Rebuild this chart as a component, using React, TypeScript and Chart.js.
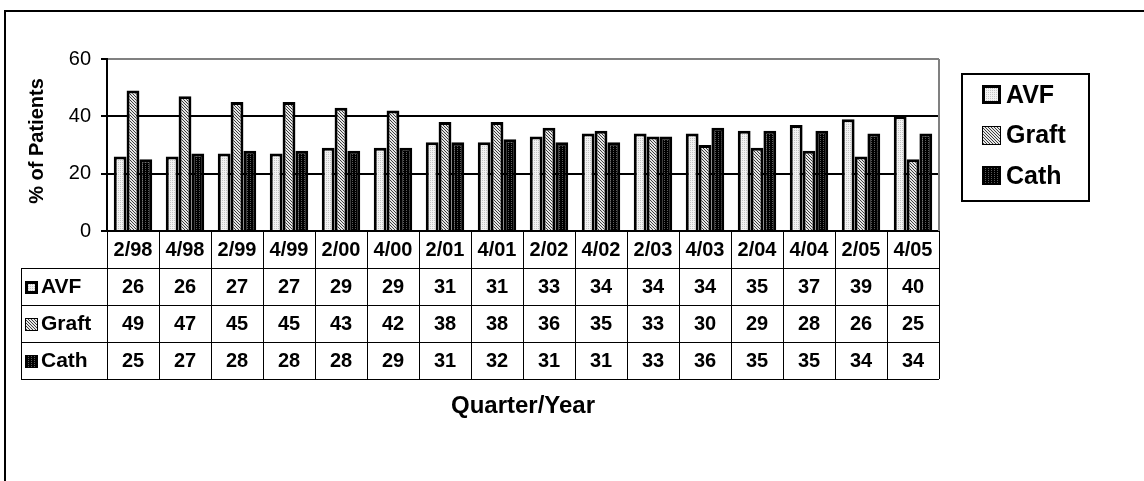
import React, { useEffect, useRef } from "react";
import { Chart, registerables } from "chart.js";

Chart.register(...registerables);

// Quarterly vascular access mix
const quarters = ["2/98", "4/98", "2/99", "4/99", "2/00", "4/00", "2/01", "4/01", "2/02", "4/02", "2/03", "4/03", "2/04", "4/04", "2/05", "4/05"];
const avf = [26, 26, 27, 27, 29, 29, 31, 31, 33, 34, 34, 34, 35, 37, 39, 40];
const graft = [49, 47, 45, 45, 43, 42, 38, 38, 36, 35, 33, 30, 29, 28, 26, 25];
const cath = [25, 27, 28, 28, 28, 29, 31, 32, 31, 31, 33, 36, 35, 35, 34, 34];
const seriesNames = ["AVF", "Graft", "Cath"];
const yTicks = [0, 20, 40, 60];
const yTitle = "% of Patients";
const xTitle = "Quarter/Year";

const FONT = "'Liberation Sans', Arial, Helvetica, sans-serif";

function makePattern(w: number, h: number, draw: (g: CanvasRenderingContext2D) => void): CanvasPattern {
  const c = document.createElement("canvas");
  c.width = w;
  c.height = h;
  const g = c.getContext("2d") as CanvasRenderingContext2D;
  draw(g);
  return g.createPattern(c, "repeat") as CanvasPattern;
}

function px(g: CanvasRenderingContext2D, x: number, y: number, color: string) {
  g.fillStyle = color;
  g.fillRect(x, y, 1, 1);
}

export default function App() {
  const ref = useRef<HTMLCanvasElement | null>(null);

  useEffect(() => {
    const canvas = ref.current;
    if (!canvas) return;

    // light stipple, fine diagonal hatch, dark grid
    const avfFill = makePattern(2, 2, (g) => {
      g.fillStyle = "#f2f2f2";
      g.fillRect(0, 0, 2, 2);
      px(g, 0, 0, "#c4c4c4");
    });
    const graftFill = makePattern(3, 3, (g) => {
      g.fillStyle = "#e6e6e6";
      g.fillRect(0, 0, 3, 3);
      for (let i = 0; i < 3; i++) px(g, i, i, "#3c3c3c");
    });
    const cathFill = makePattern(3, 2, (g) => {
      g.fillStyle = "#000";
      g.fillRect(0, 0, 3, 2);
      px(g, 1, 0, "#5a5a5a");
    });
    const fills = [avfFill, graftFill, cathFill];
    const seriesData = [avf, graft, cath];

    const drawSwatch = (ctx: CanvasRenderingContext2D, i: number, x: number, y: number, s: number) => {
      ctx.fillStyle = "#000";
      ctx.fillRect(x, y, s, s);
      const inset = i === 0 ? 3 : 1;
      ctx.fillStyle = fills[i];
      ctx.fillRect(x + inset, y + inset, s - 2 * inset, s - 2 * inset);
    };

    const decor = {
      id: "decor",
      beforeDraw(chart: Chart) {
        const ctx = chart.ctx;
        ctx.save();
        ctx.fillStyle = "#fff";
        ctx.fillRect(0, 0, chart.width, chart.height);
        ctx.restore();
      },
      afterDraw(chart: Chart) {
        const ctx = chart.ctx;
        const area = chart.chartArea;
        const xs = chart.scales.x;
        const n = quarters.length;
        const colW = (area.right - area.left) / n;
        ctx.save();

        // outer frame
        ctx.strokeStyle = "#000";
        ctx.lineWidth = 2;
        ctx.beginPath();
        ctx.moveTo(5, chart.height);
        ctx.lineTo(5, 11);
        ctx.lineTo(chart.width, 11);
        ctx.stroke();

        // right edge of the plot area
        ctx.strokeStyle = "#808080";
        ctx.lineWidth = 2;
        ctx.beginPath();
        ctx.moveTo(area.right, area.top);
        ctx.lineTo(area.right, area.bottom);
        ctx.stroke();

        // y axis title
        ctx.fillStyle = "#000";
        ctx.font = `bold 20px ${FONT}`;
        ctx.textAlign = "center";
        ctx.textBaseline = "middle";
        ctx.save();
        ctx.translate(37, (area.top + area.bottom) / 2 - 4);
        ctx.rotate(-Math.PI / 2);
        ctx.fillText(yTitle, 0, 0);
        ctx.restore();

        // data table under the axis
        const rowH = 37;
        const tTop = area.bottom;
        const headBottom = tTop + rowH;
        const tBottom = headBottom + rowH * seriesNames.length;
        const keyLeft = 21;

        ctx.strokeStyle = "#000";
        ctx.lineWidth = 1;
        ctx.beginPath();
        for (let i = 0; i <= n; i++) {
          const x = Math.round(xs.getPixelForValue(i) - colW / 2) + 0.5;
          ctx.moveTo(x, tTop);
          ctx.lineTo(x, tBottom);
        }
        for (let r = 1; r <= seriesNames.length; r++) {
          const y = Math.round(headBottom + rowH * (r - 1)) + 0.5;
          ctx.moveTo(keyLeft, y);
          ctx.lineTo(area.right, y);
        }
        const yb = Math.round(tBottom) + 0.5;
        ctx.moveTo(keyLeft, yb);
        ctx.lineTo(area.right, yb);
        ctx.moveTo(keyLeft + 0.5, headBottom);
        ctx.lineTo(keyLeft + 0.5, tBottom);
        ctx.stroke();

        ctx.fillStyle = "#000";
        ctx.font = `bold 20px ${FONT}`;
        ctx.textAlign = "center";
        ctx.textBaseline = "middle";
        quarters.forEach((q, i) => {
          ctx.fillText(q, xs.getPixelForValue(i), tTop + rowH / 2 + 1);
        });
        seriesNames.forEach((name, r) => {
          const cy = headBottom + rowH * r + rowH / 2 + 1;
          ctx.font = `bold 20px ${FONT}`;
          ctx.textAlign = "center";
          seriesData[r].forEach((v, i) => {
            ctx.fillStyle = "#000";
            ctx.fillText(String(v), xs.getPixelForValue(i), cy);
          });
          drawSwatch(ctx, r, 25, Math.round(cy - 7), 13);
          ctx.fillStyle = "#000";
          ctx.textAlign = "left";
          ctx.font = `bold 21px ${FONT}`;
          ctx.fillText(name, 41, cy);
        });

        // x axis title
        ctx.textAlign = "center";
        ctx.font = `bold 24px ${FONT}`;
        ctx.fillText(xTitle, (area.left + area.right) / 2, 406);

        // legend
        const lx = 962, ly = 74, lw = 127, lh = 127;
        ctx.strokeStyle = "#000";
        ctx.lineWidth = 2;
        ctx.strokeRect(lx, ly, lw, lh);
        ctx.font = `bold 25px ${FONT}`;
        ctx.textAlign = "left";
        seriesNames.forEach((name, r) => {
          const cy = 95 + r * 40.5;
          drawSwatch(ctx, r, 982, Math.round(cy - 10), 19);
          ctx.fillStyle = "#000";
          ctx.fillText(name, 1006, cy + 1);
        });

        ctx.restore();
      },
    };

    const chart = new Chart(canvas, {
      type: "bar",
      data: {
        labels: quarters,
        datasets: seriesNames.map((name, i) => ({
          label: name,
          data: seriesData[i],
          backgroundColor: fills[i],
          borderColor: "#000",
          borderWidth: 3,
          borderSkipped: "bottom",
          categoryPercentage: 0.74,
          barPercentage: 1.0,
        })),
      },
      options: {
        animation: false,
        responsive: false,
        events: [],
        layout: { padding: { left: 0, top: 59, right: 205, bottom: 250 } },
        plugins: {
          legend: { display: false },
          tooltip: { enabled: false },
          title: { display: false },
        },
        scales: {
          x: { display: false, grid: { display: false } },
          y: {
            min: 0,
            max: 60,
            afterBuildTicks: (s: any) => {
              s.ticks = yTicks.map((v) => ({ value: v }));
            },
            afterFit: (s: any) => {
              s.width = 107;
            },
            ticks: {
              color: "#000",
              padding: 10,
              font: { family: FONT, size: 20, weight: "normal" },
            },
            grid: {
              color: (c: any) => (c.tick && c.tick.value === 60 ? "#808080" : "#000"),
              lineWidth: 2,
              drawTicks: true,
              tickLength: 6,
              tickColor: "#000",
            },
            border: { display: true, color: "#000", width: 2 },
          },
        },
      },
      plugins: [decor],
    });

    return () => chart.destroy();
  }, []);

  return (
    <div style={{ position: "fixed", left: 0, top: 0, width: 1144, height: 481, background: "#fff" }}>
      <canvas ref={ref} width={1144} height={481} style={{ display: "block", width: 1144, height: 481 }} />
    </div>
  );
}
